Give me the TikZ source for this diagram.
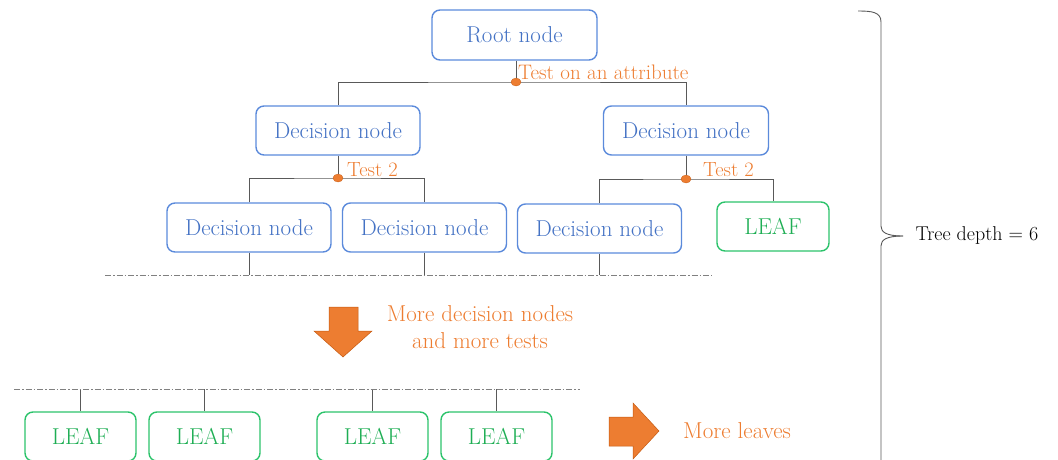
\documentclass[tikz,border=0pt]{standalone}
\usepackage{tikz}
\usetikzlibrary{shapes.geometric}
\definecolor{nodeblue}{HTML}{4472C4}
\definecolor{nodeedge}{HTML}{5B8ADB}
\definecolor{leafgreen}{HTML}{1EAE54}
\definecolor{leafedge}{HTML}{2CC36B}
\definecolor{testorange}{HTML}{ED7D31}
\definecolor{arrowedge}{HTML}{C55A11}
\definecolor{linkgray}{HTML}{595959}
\begin{document}
\begin{tikzpicture}[x=1pt,y=-1pt,
  every node/.style={font=\fontsize{23}{27}\selectfont},
  decbox/.style={draw=nodeedge, text=nodeblue, line width=1.4pt, rounded corners=8pt,
    minimum width=164pt, minimum height=49pt, inner sep=0pt},
  leafbox/.style={draw=leafedge, text=leafgreen, line width=1.4pt, rounded corners=8pt,
    minimum width=111pt, minimum height=49pt, inner sep=0pt},
  link/.style={draw=linkgray, line width=0.9pt},
  cutline/.style={draw=gray, line width=0.8pt, dash pattern=on 6pt off 2pt on 1.5pt off 2pt},
  testdot/.style={ellipse, fill=testorange, draw=arrowedge, line width=0.3pt,
    minimum width=10pt, minimum height=8pt, inner sep=0pt},
  testlabel/.style={text=testorange, inner sep=0pt},
  bigarrow/.style={fill=testorange, draw=arrowedge, line width=0.5pt},
]
\useasboundingbox (0,0) rectangle (1058,459);
\clip (0,0) rectangle (1058,459);

% tree nodes
\node[decbox, minimum width=165pt, minimum height=50pt] (root) at (514.5,35) {Root node};
\node[decbox] (d1l) at (338,130.5) {Decision node};
\node[decbox, minimum width=165pt] (d1r) at (686,130.5) {Decision node};
\node[decbox] (d2a) at (249,227.5) {Decision node};
\node[decbox] (d2b) at (424.5,227.5) {Decision node};
\node[decbox] (d2c) at (599.5,228.5) {Decision node};
\node[leafbox, minimum width=112pt] (lfr) at (773,226.5) {LEAF};

\node[leafbox] (lf1) at (80.5,436.5) {LEAF};
\node[leafbox] (lf2) at (204.5,436.5) {LEAF};
\node[leafbox] (lf3) at (372.5,436.5) {LEAF};
\node[leafbox] (lf4) at (496.5,436.5) {LEAF};

% test points
\coordinate (t0) at (516,82);
\coordinate (t1) at (338,178);
\coordinate (t2) at (686,179);

\draw[link] (root.south -| t0) -- (t0);
\draw[link] (d1l.north) |- (t0) -| (d1r.north);
\draw[link] (d1l.south) -- (t1);
\draw[link] (d2a.north) |- (t1) -| (d2b.north);
\draw[link] (d1r.south) -- (t2);
\draw[link] (d2c.north) |- (t2) -| (lfr.north);

% cut of the upper part
\coordinate (cutaw) at (105,275);
\coordinate (cutae) at (712,275);
\draw[link] (d2a.south) -- (d2a.south |- cutaw);
\draw[link] (d2b.south) -- (d2b.south |- cutaw);
\draw[link] (d2c.south) -- (d2c.south |- cutaw);
\draw[cutline] (cutaw) -- (cutae);

% cut above the leaves
\coordinate (cutbw) at (14,389);
\coordinate (cutbe) at (580,389);
\foreach \l in {lf1,lf2,lf3,lf4}
  \draw[link] (\l.north |- cutbw) -- (\l.north);
\draw[cutline] (cutbw) -- (cutbe);

\node[testdot] (dot0) at (t0) {};
\node[testdot] (dot1) at (t1) {};
\node[testdot] (dot2) at (t2) {};

\node[testlabel, anchor=base west, font=\fontsize{21}{25}\selectfont] (lab0) at (518,79) {Test on an attribute};
\node[testlabel, anchor=base west, font=\fontsize{20.5}{24}\selectfont] (lab1) at (347,176) {Test 2};
\node[testlabel, anchor=base west, font=\fontsize{20.5}{24}\selectfont] (lab2) at (703,176) {Test 2};

% more levels
\draw[bigarrow] (329,307) -- (358,307) -- (358,331) -- (372,331) -- (343,357)
  -- (314,331) -- (329,331) -- cycle;
\node[testlabel, align=center] (more) at (480,327) {More decision nodes\\and more tests};

\draw[bigarrow] (609,417) -- (633,417) -- (633,403) -- (659,431) -- (633,459)
  -- (633,446) -- (609,446) -- cycle;
\node[testlabel, anchor=west] (leaves) at (683,431) {More leaves};

% depth brace
\draw[linkgray, line width=0.9pt]
  (858,11) .. controls (872,11) and (881,12) .. (881,22)
  -- (881,226) .. controls (881,232) and (886,236) .. (903,236);
\draw[linkgray, line width=0.9pt]
  (903,236) .. controls (886,236) and (881,240) .. (881,246)
  -- (881,470) .. controls (881,480) and (872,481) .. (858,481);
\node[anchor=west, font=\fontsize{20}{24}\selectfont] (depth) at (912,236) {Tree depth = 6};
\end{tikzpicture}
\end{document}
